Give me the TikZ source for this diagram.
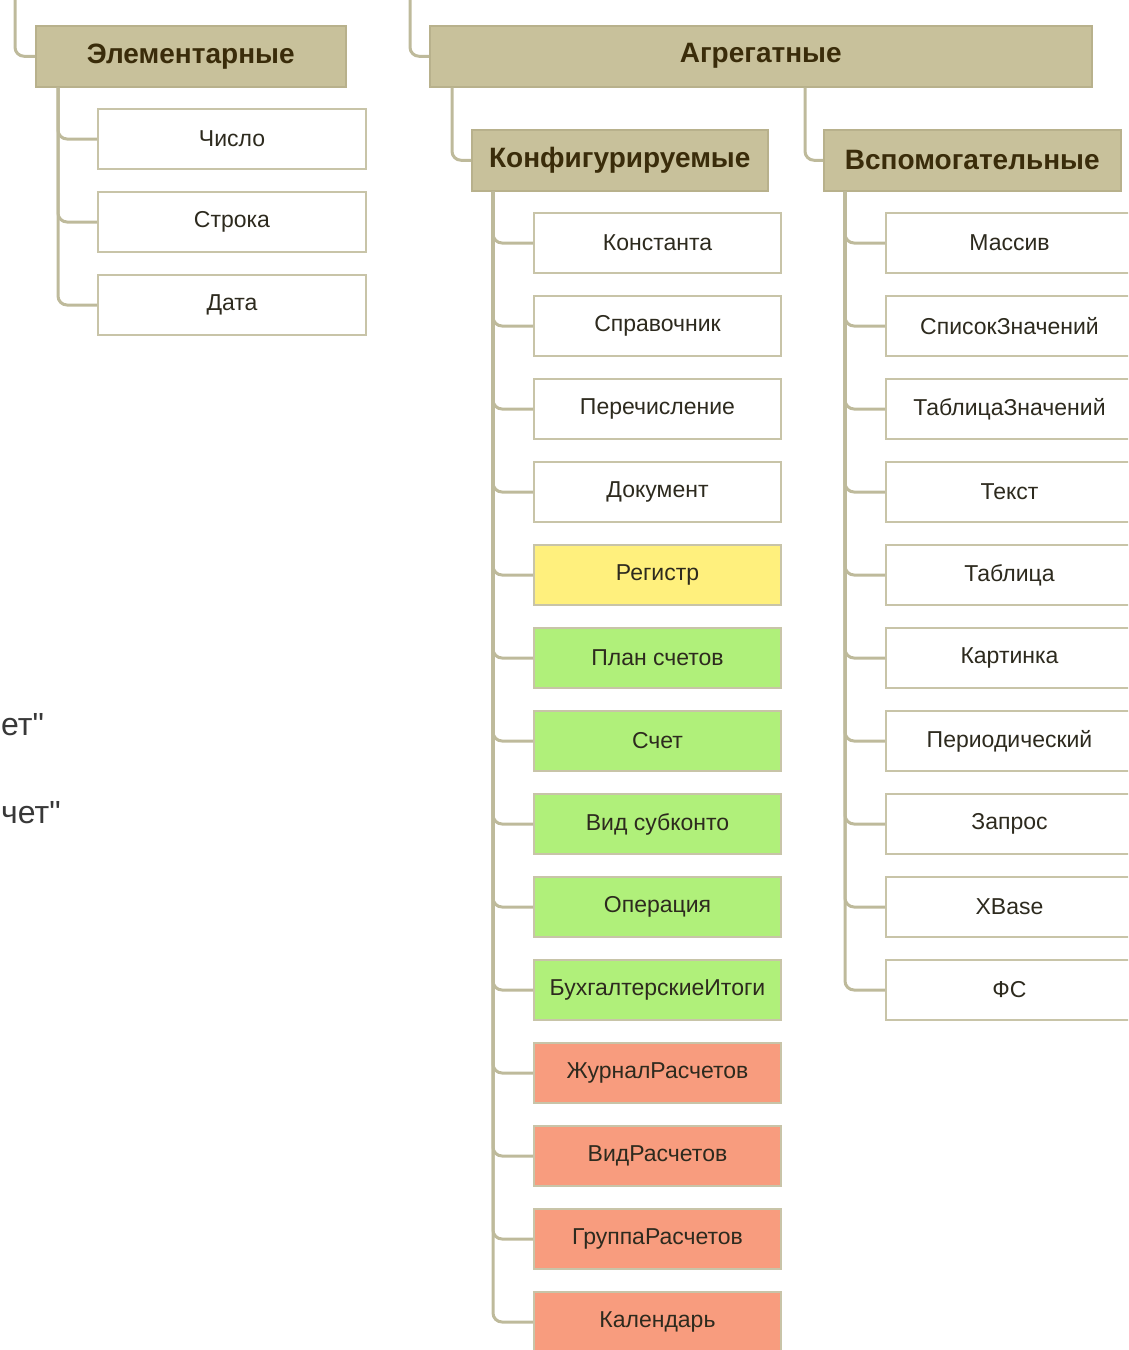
\documentclass[tikz,border=0pt]{standalone}
\usepackage{fontspec}
\setmainfont{Liberation Sans}
\newfontfamily\sidefont{Liberation Sans}[Ligatures=TeXOff]
\definecolor{hdrfill}{RGB}{200,193,155}
\definecolor{hdrdraw}{RGB}{184,177,140}
\definecolor{boxdraw}{RGB}{200,196,168}
\definecolor{connc}{RGB}{190,186,155}
\definecolor{yel}{RGB}{255,240,125}
\definecolor{grn}{RGB}{176,240,122}
\definecolor{sal}{RGB}{248,156,126}
\definecolor{hdrtext}{RGB}{58,44,10}
\definecolor{boxtext}{RGB}{45,42,30}
\tikzset{
  hdr/.style={draw=hdrdraw, line width=1.5pt, fill=hdrfill, anchor=north west, inner sep=0pt,
    minimum height=61pt, text=hdrtext, font=\fontsize{28}{31}\selectfont\bfseries},
  leaf/.style={draw=boxdraw, line width=2pt, fill=white, anchor=north west, inner sep=0pt,
    minimum height=60pt, minimum width=247pt, text=boxtext, font=\fontsize{23}{26}\selectfont},
  eleaf/.style={leaf, minimum width=268pt},
  yleaf/.style={leaf, fill=yel},
  gleaf/.style={leaf, fill=grn},
  sleaf/.style={leaf, fill=sal},
  conn/.style={draw=connc, line width=3pt, rounded corners=9pt},
  sidetext/.style={anchor=base west, inner sep=0pt, text=black!78, font=\sidefont\fontsize{32}{36}\selectfont}
}
\begin{document}
\begin{tikzpicture}[x=1pt,y=-1pt]
\useasboundingbox (0,0) rectangle (1128,1350);
\begin{scope}
\clip (0,0) rectangle (1128,1350);
% headers
\node[hdr, minimum width=310pt] (E) at (35,25) {Элементарные};
\node[hdr, minimum width=662pt] (A) at (429,25) {Агрегатные};
\node[hdr, minimum width=296pt] (K) at (471,129) {Конфигурируемые};
\node[hdr, minimum width=297pt] (V) at (823,129) {Вспомогательные};
% top free ends
\coordinate (topE) at (15,-5);
\coordinate (topA) at (410,-5);
\draw[conn] (topE) |- (E.west);
\draw[conn] (topA) |- (A.west);
\draw[conn] ([xshift=23pt]A.south west) |- (K.west);
\draw[conn] ([xshift=376pt]A.south west) |- (V.west);
% elementary leaves
\node[eleaf] (e1) at (97,108) {Число};
\node[eleaf] (e2) at (97,191) {Строка};
\node[eleaf] (e3) at (97,274) {Дата};
\foreach \n in {e1,e2,e3} \draw[conn] ([xshift=23pt]E.south west) |- (\n.west);
% configurable leaves
\node[leaf]  (k1)  at (533,212)  {Константа};
\node[leaf]  (k2)  at (533,295)  {Справочник};
\node[leaf]  (k3)  at (533,378)  {Перечисление};
\node[leaf]  (k4)  at (533,461)  {Документ};
\node[yleaf] (k5)  at (533,544)  {Регистр};
\node[gleaf] (k6)  at (533,627)  {План счетов};
\node[gleaf] (k7)  at (533,710)  {Счет};
\node[gleaf] (k8)  at (533,793)  {Вид субконто};
\node[gleaf] (k9)  at (533,876)  {Операция};
\node[gleaf] (k10) at (533,959)  {БухгалтерскиеИтоги};
\node[sleaf] (k11) at (533,1042) {ЖурналРасчетов};
\node[sleaf] (k12) at (533,1125) {ВидРасчетов};
\node[sleaf] (k13) at (533,1208) {ГруппаРасчетов};
\node[sleaf] (k14) at (533,1291) {Календарь};
\foreach \n in {k1,k2,k3,k4,k5,k6,k7,k8,k9,k10,k11,k12,k13,k14} \draw[conn] ([xshift=22pt]K.south west) |- (\n.west);
% auxiliary leaves
\node[leaf] (v1)  at (885,212) {Массив};
\node[leaf] (v2)  at (885,295) {СписокЗначений};
\node[leaf] (v3)  at (885,378) {ТаблицаЗначений};
\node[leaf] (v4)  at (885,461) {Текст};
\node[leaf] (v5)  at (885,544) {Таблица};
\node[leaf] (v6)  at (885,627) {Картинка};
\node[leaf] (v7)  at (885,710) {Периодический};
\node[leaf] (v8)  at (885,793) {Запрос};
\node[leaf] (v9)  at (885,876) {XBase};
\node[leaf] (v10) at (885,959) {ФС};
\foreach \n in {v1,v2,v3,v4,v5,v6,v7,v8,v9,v10} \draw[conn] ([xshift=22pt]V.south west) |- (\n.west);
% side texts
\node[sidetext] (s1) at (1,735) {ет"};
\node[sidetext] (s2) at (1,823) {чет"};
\end{scope}
\end{tikzpicture}
\end{document}
